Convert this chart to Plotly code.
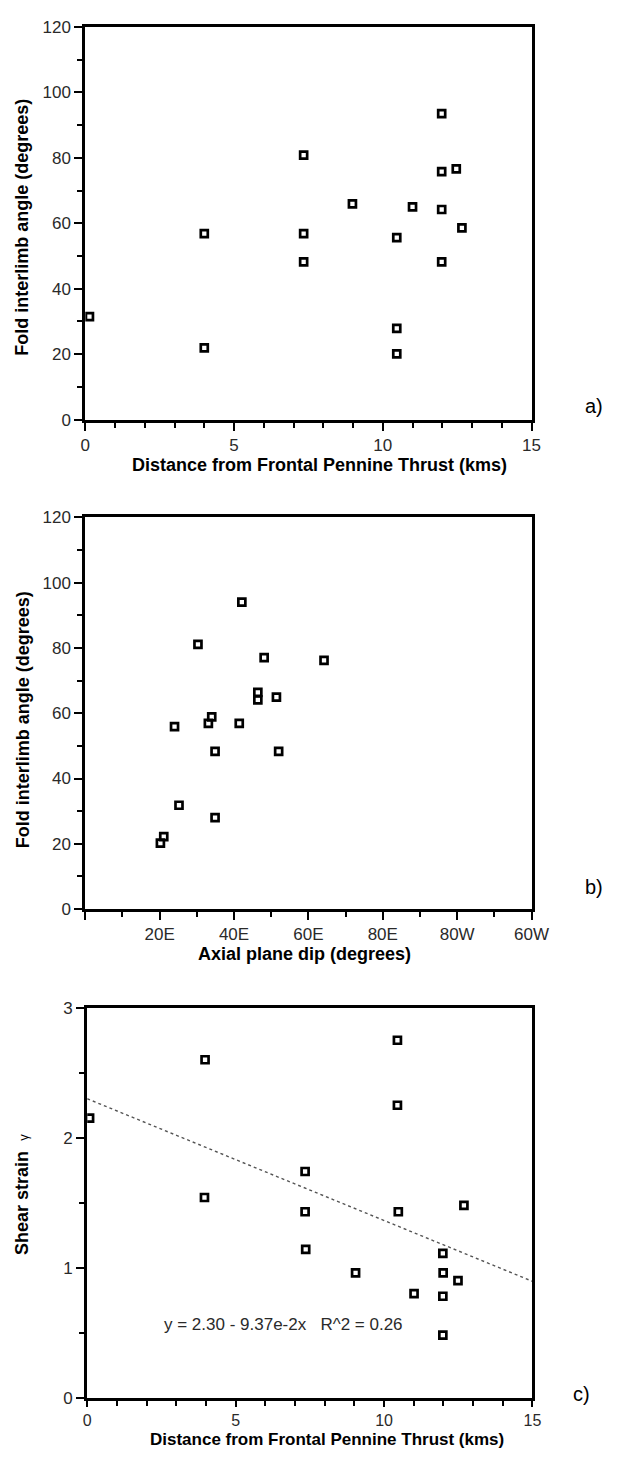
import plotly.graph_objects as go

# ---- data ----
# Panel a: distance (km) vs fold interlimb angle (deg)
dist_a = [0.14, 4.0, 4.0, 7.34, 7.34, 7.34, 8.98, 10.47, 10.47, 10.47, 11.0, 11.98, 11.98, 12.47, 11.98, 12.66, 11.98]
angle_a = [31.5, 56.8, 21.9, 80.8, 56.8, 48.2, 65.9, 55.6, 27.9, 20.1, 65.0, 93.5, 75.8, 76.6, 64.2, 58.6, 48.2]

# Panel b: axial plane dip (0-120 scale, 100=80W, 120=60W) vs fold interlimb angle
dip_b = [20.2, 21.1, 25.2, 24.0, 30.3, 33.1, 34.0, 34.9, 34.9, 41.4, 42.1, 46.4, 46.4, 48.1, 51.4, 52.0, 64.2]
angle_b = [20.2, 22.2, 31.8, 55.9, 81.1, 56.9, 58.9, 48.3, 28.0, 56.9, 94.0, 66.4, 64.1, 77.0, 64.9, 48.3, 76.2]
dip_tickvals = [0, 20, 40, 60, 80, 100, 120]
dip_ticktext = ["", "20E", "40E", "60E", "80E", "80W", "60W"]

# Panel c: distance (km) vs shear strain gamma
dist_c = [0.08, 3.97, 3.95, 7.34, 7.34, 7.36, 10.45, 10.45, 10.48, 9.04, 11.01, 11.98, 11.99, 11.98, 11.98, 12.49, 12.69]
gamma_c = [2.15, 2.60, 1.54, 1.74, 1.43, 1.14, 2.75, 2.25, 1.43, 0.96, 0.80, 1.11, 0.96, 0.78, 0.48, 0.90, 1.48]
fit_intercept = 2.30
fit_slope = -9.37e-2
fit_x = [0, 15]
fit_y = [fit_intercept + fit_slope * x for x in fit_x]
fit_label = "y = 2.30 - 9.37e-2x\u00a0\u00a0\u00a0R^2 = 0.26"

# page is 624x1459; the html body keeps its default 8px margin
PAGE_W, PAGE_H = 624, 1459
OFF = 8
W, H = PAGE_W - 2 * OFF, PAGE_H - 2 * OFF
FONT = "Liberation Sans, Arial, sans-serif"


def px_x(p):
    return (p - OFF) / W


def px_y(p):
    return 1 - (p - OFF) / H


fig = go.Figure()

marker = dict(symbol="square-open", size=7, color="black", line=dict(width=2.7, color="black"))

fig.add_trace(go.Scatter(x=dist_a, y=angle_a, mode="markers", marker=marker, xaxis="x", yaxis="y", showlegend=False))
fig.add_trace(go.Scatter(x=dip_b, y=angle_b, mode="markers", marker=marker, xaxis="x2", yaxis="y2", showlegend=False))
fig.add_trace(go.Scatter(x=fit_x, y=fit_y, mode="lines", line=dict(color="#555", width=1.4, dash="dot"),
                         xaxis="x3", yaxis="y3", showlegend=False))
fig.add_trace(go.Scatter(x=dist_c, y=gamma_c, mode="markers", marker=marker, xaxis="x3", yaxis="y3", showlegend=False))

tickfont = dict(family=FONT, size=17, color="#2a2a2a")


def axis_common(**kw):
    d = dict(showline=True, linewidth=3, linecolor="black", mirror=True,
             ticks="outside", ticklen=8, tickwidth=2, tickcolor="black",
             showgrid=False, zeroline=False, tickfont=tickfont, fixedrange=True)
    d.update(kw)
    return d


def minor(dt):
    return dict(dtick=dt, ticklen=5, tickwidth=2, ticks="outside", tickcolor="black")


# panel frames in page pixels
pa = dict(x0=83, x1=546, y0=18, y1=416)
pb = dict(x0=83, x1=546, y0=515, y1=912)
pc = dict(x0=85, x1=547, y0=1012, y1=1407)


def dom_x(p):
    return [px_x(p["x0"]), px_x(p["x1"])]


def dom_y(p):
    return [px_y(p["y1"]), px_y(p["y0"])]


fig.update_layout(
    width=W, height=H,
    margin=dict(l=0, r=0, t=0, b=0),
    paper_bgcolor="white", plot_bgcolor="white",
    font=dict(family=FONT, color="black"),
    xaxis=axis_common(domain=dom_x(pa), range=[0, 15], tickvals=[0, 5, 10, 15], minor=minor(1), anchor="y"),
    yaxis=axis_common(domain=dom_y(pa), range=[0, 120], tickvals=[0, 20, 40, 60, 80, 100, 120],
                      minor=minor(10), anchor="x"),
    xaxis2=axis_common(domain=dom_x(pb), range=[0, 120], tickvals=dip_tickvals, ticktext=dip_ticktext,
                       minor=minor(10), anchor="y2"),
    yaxis2=axis_common(domain=dom_y(pb), range=[0, 120], tickvals=[0, 20, 40, 60, 80, 100, 120],
                       minor=minor(10), anchor="x2"),
    xaxis3=axis_common(domain=dom_x(pc), range=[0, 15], tickvals=[0, 5, 10, 15], minor=minor(1), anchor="y3",
                       ticklen=6, tickfont=dict(family=FONT, size=16, color="#2a2a2a")),
    yaxis3=axis_common(domain=dom_y(pc), range=[0, 3], tickvals=[0, 1, 2, 3], minor=minor(0.5), anchor="x3"),
)

title_font = dict(family=FONT, size=18, color="black")
label_font = dict(family=FONT, size=20, color="black")
annotations = [
    # x titles
    dict(text="<b>Distance from Frontal Pennine Thrust (kms)</b>", x=px_x(326), y=px_y(462)),
    dict(text="<b>Axial plane dip (degrees)</b>", x=px_x(310), y=px_y(957)),
    dict(text="<b>Distance from Frontal Pennine Thrust (kms)</b>", x=px_x(334), y=px_y(1449),
         font=dict(family=FONT, size=17, color="black")),
    # y titles
    dict(text="<b>Fold interlimb angle (degrees)</b>", x=px_x(18), y=px_y(221), textangle=-90),
    dict(text="<b>Fold interlimb angle (degrees)</b>", x=px_x(18), y=px_y(720), textangle=-90),
    dict(text="<b>Shear strain</b>\u00a0\u00a0<span style='font-size:13px'>γ</span>", x=px_x(18), y=px_y(1201),
         textangle=-90),
    # panel labels
    dict(text="a)", x=px_x(611), y=px_y(402), font=label_font),
    dict(text="b)", x=px_x(611), y=px_y(890), font=label_font),
    dict(text="c)", x=px_x(598), y=px_y(1403), font=label_font),
]
for a in annotations:
    a.setdefault("font", title_font)
    a.update(xref="paper", yref="paper", showarrow=False, xanchor="center", yanchor="middle")
fig.update_layout(annotations=annotations)

fig.add_annotation(text=fit_label, x=6.6, y=0.56, xref="x3", yref="y3", showarrow=False,
                   font=dict(family=FONT, size=17, color="#2a2a2a"), xanchor="center", yanchor="middle")

fig.write_html("out.html", config={"displayModeBar": False})
